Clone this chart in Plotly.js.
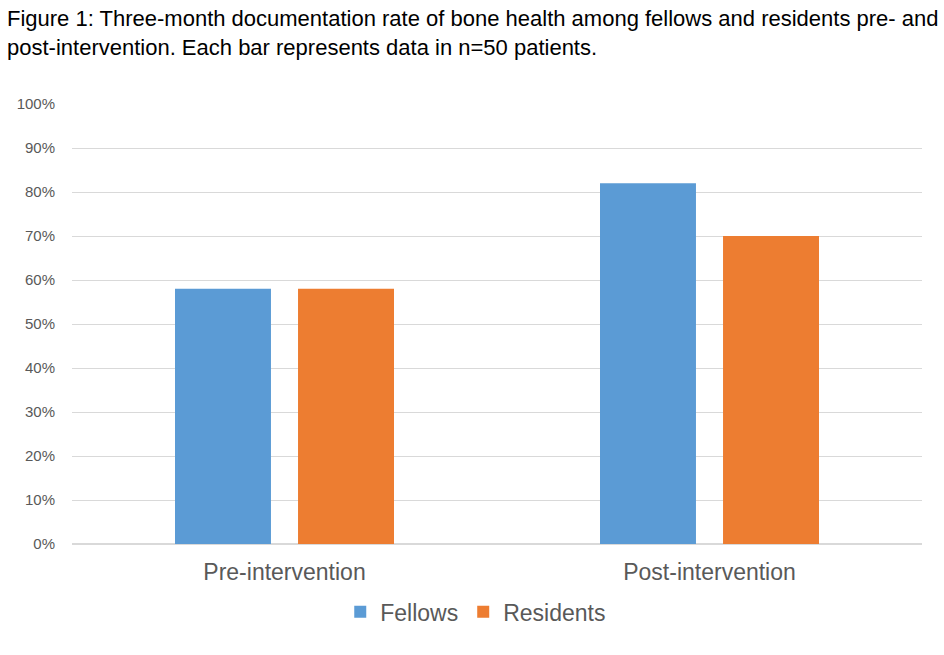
<!DOCTYPE html>
<html>
<head>
<meta charset="utf-8">
<script src="https://cdn.plot.ly/plotly-3.0.1.min.js"></script>
<style>html,body{margin:0;padding:0;background:#fff;}#chart{width:944px;height:655px;}</style>
</head>
<body>
<div id="chart"></div>
<script>
const categories = ["Pre-intervention", "Post-intervention"];
const fellows = [0.58, 0.82];
const residents = [0.58, 0.70];
const yTickVals = [0, 0.1, 0.2, 0.3, 0.4, 0.5, 0.6, 0.7, 0.8, 0.9, 1.0];
const yTickText = ["0%", "10%", "20%", "30%", "40%", "50%", "60%", "70%", "80%", "90%", "100%"];
const titleText = "Figure 1: Three-month documentation rate of bone health among fellows and residents pre- and<br>post-intervention. Each bar represents data in n=50 patients.";

const traces = [
  {type: "bar", name: "Fellows", x: categories, y: fellows, marker: {color: "#5B9BD5"}, hoverinfo: "y"},
  {type: "bar", name: "Residents", x: categories, y: residents, marker: {color: "#ED7D31"}, hoverinfo: "y"}
];

const layout = {
  width: 944, height: 655,
  paper_bgcolor: "#fff", plot_bgcolor: "#fff",
  margin: {l: 72, r: 22, t: 104, b: 111},
  barmode: "group",
  bargap: 0.421,
  bargroupgap: 0.22,
  annotations: [{
    text: titleText,
    font: {family: "Liberation Sans, Arial, sans-serif", size: 22, color: "#000"},
    xref: "paper", yref: "paper",
    x: -0.0788, xanchor: "left",
    y: 1.227, yanchor: "top",
    align: "left", showarrow: false
  }],
  xaxis: {
    showgrid: false, zeroline: false, showline: false,
    ticks: "", ticklabelstandoff: 12,
    tickfont: {family: "Liberation Sans, Arial, sans-serif", size: 23, color: "#595959"}
  },
  yaxis: {
    range: [0, 1], tickvals: yTickVals, ticktext: yTickText,
    showgrid: true, gridcolor: "#d9d9d9", gridwidth: 1,
    zeroline: true, zerolinecolor: "#d9d9d9", zerolinewidth: 1.5,
    showline: false, ticks: "",
    ticklabelstandoff: 16,
    tickfont: {family: "Liberation Sans, Arial, sans-serif", size: 15, color: "#595959"}
  },
  showlegend: true,
  legend: {
    orientation: "h", x: 0.475, xanchor: "center", y: -0.105, yanchor: "top",
    font: {family: "Liberation Sans, Arial, sans-serif", size: 23, color: "#595959"},
    traceorder: "normal"
  }
};

Plotly.newPlot("chart", traces, layout, {displayModeBar: false, staticPlot: true});
</script>
</body>
</html>
